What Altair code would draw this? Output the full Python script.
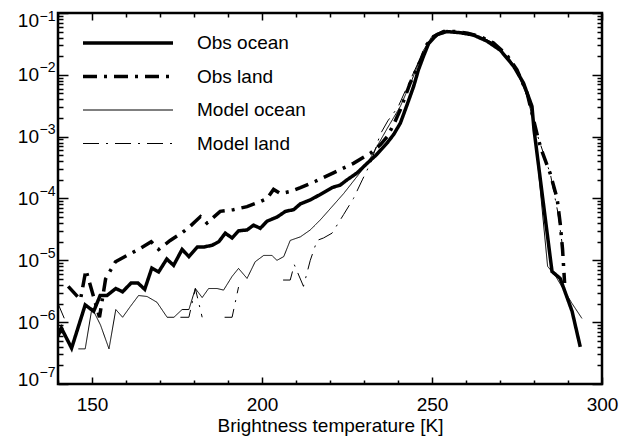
import altair as alt
import pandas as pd

FONT = "Liberation Sans"

series_names = ["Obs ocean", "Obs land", "Model ocean", "Model land"]

# Obs ocean (thick solid)
obs_ocean_T = [140, 141, 144, 148, 150.5, 152.4, 154.4, 157, 159, 161.5, 163.5, 165.5, 167.6, 169.6,
               172, 174, 176.5, 178.5, 181, 183, 185.3, 187.3, 189.2, 191.2, 193.1, 195.6, 197.5,
               199.5, 201.5, 204.4, 206.9, 209.3, 211.3, 214.2, 217, 220.6, 223, 225, 228, 230.9,
               233.5, 236.8, 238.8, 240.7, 242.6, 244.6, 246, 247.5, 249, 251.5, 254.4, 258.3,
               262.2, 266.2, 270.1, 274, 276.9, 279.4, 280, 285.3, 287.7, 291.2, 293.6]
obs_ocean_v = [6e-7, 8e-7, 3.8e-7, 1.9e-6, 1.5e-6, 2.7e-6, 2.7e-6, 3.5e-6, 3.1e-6, 4.3e-6, 4.3e-6,
               3.4e-6, 7.5e-6, 6.5e-6, 1.05e-5, 8.3e-6, 1.5e-5, 1.15e-5, 1.65e-5, 1.65e-5, 1.75e-5,
               2e-5, 2.75e-5, 2.3e-5, 3e-5, 3.1e-5, 3.7e-5, 3.3e-5, 4.3e-5, 5e-5, 6.2e-5, 6.6e-5,
               8.2e-5, 9.5e-5, 1.15e-4, 1.5e-4, 1.65e-4, 2e-4, 2.6e-4, 3.7e-4, 5e-4, 7.9e-4, 1.1e-3,
               1.66e-3, 3.2e-3, 6.5e-3, 0.012, 0.02, 0.032, 0.045, 0.05, 0.048, 0.044, 0.035, 0.025,
               0.0138, 0.0074, 3.1e-3, 1.3e-3, 6.6e-6, 5.1e-6, 1.5e-6, 4e-7]

# Obs land (thick dash-dot)
obs_land_T = [143, 146.6, 148.2, 152.2, 154, 156.9, 160.3, 163.7, 167.4, 169.6, 173, 176.5, 178.5,
              181.9, 183.8, 187.7, 191.6, 195.6, 199.5, 201.5, 203.4, 205.4, 208.3, 211.3, 215.7,
              221, 226.9, 231.9, 234.8, 236.8, 238.8, 240.7, 243.6, 246.6, 248.5, 250.5, 253.4,
              257.4, 260.5, 264, 268, 272, 275, 278, 280.9, 282, 284.8, 286.8, 287.7, 288.4, 289]
obs_land_v = [3.8e-6, 2.3e-6, 7e-6, 1.2e-6, 5e-6, 9.5e-6, 1.2e-5, 1.5e-5, 2e-5, 1.5e-5, 2.1e-5,
              2.8e-5, 3.4e-5, 5.1e-5, 4e-5, 6.2e-5, 6.6e-5, 7.4e-5, 8.9e-5, 1.0e-4, 1.4e-4, 1.2e-4,
              1.3e-4, 1.5e-4, 1.9e-4, 2.6e-4, 3.7e-4, 5.4e-4, 7.4e-4, 1e-3, 1.6e-3, 2.75e-3, 7.4e-3,
              0.017, 0.031, 0.042, 0.05, 0.05, 0.047, 0.042, 0.033, 0.021, 0.012, 0.005, 1.1e-3,
              6.5e-4, 2.5e-4, 1e-4, 4e-5, 1.5e-5, 4.3e-6]

# Model ocean (thin solid)
model_ocean_T = [146, 148, 150, 152.5, 155, 157, 159, 161.3, 163.7, 166.2, 169.1, 172.1, 174.1,
                 176.5, 178.5, 180.4, 182.4, 184.3, 186.8, 188.7, 191.2, 193.1, 195.6, 198, 200.5,
                 202.9, 204.4, 206.4, 208.3, 211.3, 214.2, 217.3, 224, 231, 236.8, 240.7, 244,
                 247.5, 250, 253, 256, 260, 264, 268, 272, 275, 278, 280, 284, 286.4, 288.8, 291.2,
                 294.1]
model_ocean_v = [3.7e-7, 3.7e-7, 1.7e-6, 9e-7, 3.7e-7, 1.6e-6, 1.2e-6, 1.8e-6, 2.7e-6, 2.6e-6,
                 2.1e-6, 1.2e-6, 1.2e-6, 1.6e-6, 1.6e-6, 3.5e-6, 2.5e-6, 3.5e-6, 3.5e-6, 3.3e-6,
                 5.5e-6, 7.4e-6, 5.1e-6, 9.5e-6, 1.2e-5, 1.2e-5, 1e-5, 1.15e-5, 2.1e-5, 2.4e-5,
                 3.1e-5, 4.6e-5, 1.2e-4, 3.7e-4, 1.35e-3, 3.1e-3, 8e-3, 0.025, 0.042, 0.049, 0.05,
                 0.047, 0.042, 0.032, 0.02, 0.011, 0.0045, 1.6e-3, 8e-6, 5.5e-6, 3.3e-6, 2e-6,
                 1.15e-6]

# Model land (thin dash-dot); None marks empty bins (gaps)
model_land_T = [140, 142, 144, 176, 178.5, 180.4, 182.4, 185, 189, 191.2, 193.1, 200, 206.2, 208.3,
                209.5, 212.2, 214.2, 216.2, 218.1, 220.6, 224, 226.9, 229.5, 232, 234.8, 237, 240,
                243, 246, 248.5, 250.5, 253.4, 257, 260.5, 264, 268, 272, 275, 278, 280.9, 284.8,
                287, 288.5]
model_land_v = [2e-6, 1.1e-6, None, 1.2e-6, 1.2e-6, 3.5e-6, 1.2e-6, None, 1.2e-6, 1.2e-6, 3.7e-6,
                None, 4.8e-6, 4.8e-6, 8.5e-6, 3.8e-6, 1e-5, 2.1e-5, 2.3e-5, 2.75e-5, 5.5e-5, 1e-4,
                2e-4, 3.8e-4, 1.1e-3, 1.8e-3, 3e-3, 7e-3, 0.016, 0.03, 0.042, 0.05, 0.05, 0.047,
                0.042, 0.033, 0.021, 0.012, 0.005, 1.1e-3, 2.5e-4, 6e-5, 1.5e-5]

x_major = [150, 200, 250, 300]
x_minor = [140, 160, 170, 180, 190, 210, 220, 230, 240, 260, 270, 280, 290]
y_major = [1e-7, 1e-6, 1e-5, 1e-4, 1e-3, 1e-2, 1e-1]
y_minor = [m * d for d in [1e-7, 1e-6, 1e-5, 1e-4, 1e-3, 1e-2] for m in [2, 3, 4, 5, 6, 7, 8, 9]]

rows = []
for name, Ts, vs in [("Obs ocean", obs_ocean_T, obs_ocean_v),
                     ("Obs land", obs_land_T, obs_land_v),
                     ("Model ocean", model_ocean_T, model_ocean_v),
                     ("Model land", model_land_T, model_land_v)]:
    seg = 0
    for t, v in zip(Ts, vs):
        if v is None:
            seg += 1
            continue
        rows.append({"T": t, "v": v, "series": name, "seg": f"{name}-{seg}"})
df = pd.DataFrame(rows)

xscale = alt.Scale(domain=[140, 300], nice=False, zero=False)
yscale = alt.Scale(type="log", domain=[1e-7, 1e-1], nice=False)


def ax(orient, values, size, labels, **kw):
    return alt.Axis(orient=orient, values=values, tickSize=size, offset=-size, domain=False,
                    grid=False, labels=labels, tickColor="black", tickWidth=1.5,
                    labelColor="black", labelFont=FONT, labelFlush=False, **kw)


bottom_major = ax("bottom", x_major, 7, True, labelFontSize=19, labelPadding=11,
                  title="Brightness temperature [K]", titleFont=FONT, titleFontSize=19,
                  titleFontWeight="normal", titleColor="black", titlePadding=2)

# y labels: "10" as one label set, the exponent as a second, smaller, raised one
left_major = ax("left", y_major, 10, True, labelFontSize=19, labelPadding=19.5,
                labelExpr="'10'", labelBaseline="middle", title=None,
                labelOffset={"condition": [{"test": "datum.value > 0.05", "value": 7},
                                           {"test": "datum.value < 2e-7", "value": -5}],
                             "value": 0})
left_exp = alt.Axis(orient="left", values=y_major, ticks=False, domain=False, grid=False,
                    labels=True, labelFont=FONT, labelFontSize=14, labelColor="black",
                    labelPadding=3, labelBaseline="middle", title=None, labelFlush=False,
                    labelExpr="'−' + round(-log(datum.value) / LN10)",
                    labelOffset={"condition": [{"test": "datum.value > 0.05", "value": 3},
                                               {"test": "datum.value < 2e-7", "value": -12}],
                                 "value": -7})

leg = alt.Legend(orient="none", legendX=23, legendY=20, title=None, symbolType="stroke",
                 symbolSize=8100, clipHeight=20, rowPadding=13.5, labelOffset=22, labelFont=FONT,
                 labelFontSize=19, labelColor="black", symbolStrokeColor="black", padding=0,
                 labelLimit=400)

lines = alt.Chart(df).mark_line(clip=True, color="black", strokeCap="butt").encode(
    x=alt.X("T:Q", scale=xscale, axis=bottom_major),
    y=alt.Y("v:Q", scale=yscale, axis=left_major),
    strokeWidth=alt.StrokeWidth("series:N", sort=series_names,
                                scale=alt.Scale(type="ordinal", domain=series_names,
                                                range=[3.5, 3.5, 1, 1]),
                                legend=leg),
    strokeDash=alt.StrokeDash("series:N", sort=series_names,
                              scale=alt.Scale(domain=series_names,
                                              range=[[1, 0], [14, 7, 3, 7], [1, 0], [16, 7, 2, 7]]),
                              legend=leg),
    detail="seg:N",
)

ghost = alt.Chart(df).mark_point(opacity=0)
g1 = ghost.encode(
    x=alt.X("T:Q", scale=xscale, axis=ax("bottom", x_minor, 4, False, title=None)),
    y=alt.Y("v:Q", scale=yscale, axis=ax("left", y_minor, 5, False, title=None)),
)
g2 = ghost.encode(
    x=alt.X("T:Q", scale=xscale, axis=ax("top", x_major, 7, False, title=None)),
    y=alt.Y("v:Q", scale=yscale, axis=ax("right", y_major, 10, False, title=None)),
)
g3 = ghost.encode(
    x=alt.X("T:Q", scale=xscale, axis=ax("top", x_minor, 4, False, title=None)),
    y=alt.Y("v:Q", scale=yscale, axis=ax("right", y_minor, 5, False, title=None)),
)
g4 = ghost.encode(
    y=alt.Y("v:Q", scale=yscale, axis=left_exp),
)

chart = alt.layer(lines, g1, g2, g3, g4).resolve_axis(x="independent", y="independent").properties(
    width=544, height=371,
    autosize=alt.AutoSizeParams(type="none"),
    padding={"left": 50, "top": 5, "right": 20, "bottom": 55},
).configure_view(stroke="black", strokeWidth=2.5)

chart.save("out.html", embed_options={"renderer": "svg", "actions": False})
